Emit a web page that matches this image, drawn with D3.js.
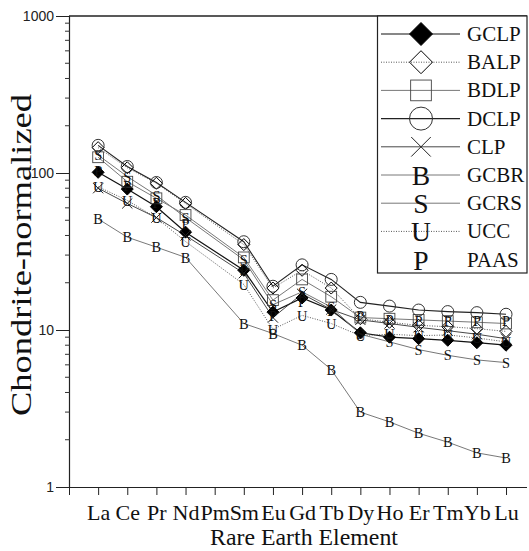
<!DOCTYPE html>
<html>
<head>
<meta charset="utf-8">
<script src="https://cdn.jsdelivr.net/npm/d3@7"></script>
<style>
  html, body { margin: 0; padding: 0; background: #fff; }
  svg { display: block; }
</style>
</head>
<body>
<svg id="chart" width="529" height="551"></svg>
<script>
// ---------------- data ----------------
const elements = ["La","Ce","Pr","Nd","Pm","Sm","Eu","Gd","Tb","Dy","Ho","Er","Tm","Yb","Lu"];
const yTickValues = [1, 10, 100, 1000];
const yTickLabels = ["1", "10", "100", "1000"];
const seriesNames = ["GCLP","BALP","BDLP","DCLP","CLP","GCBR","GCRS","UCC","PAAS"];

const GCLP = [101, 79, 61, 42, null, 24, 13, 16, 13.4, 9.6, 9.0, 8.8, 8.6, 8.3, 8.0];
const BALP = [145, 108, 86, 64, null, 35, 18.5, 24, 18.5, 11.8, 11.2, 10.7, 10.5, 10.2, 9.8];
const BDLP = [126, 88, 69, 54, null, 29, 15.5, 21, 16.3, 12.0, 11.8, 11.6, 11.4, 11.2, 11.0];
const DCLP = [150, 110, 87, 65, null, 36.5, 19, 26, 21, 15, 14.2, 13.4, 13.1, 12.9, 12.6];
const CLP  = [80, 64, 52, 40, null, 23, 12, 17, 13.5, 11.6, 11.0, 10.4, 9.9, 9.4, 8.8];
const GCBR = [51, 39, 33.7, 29, null, 11.0, 9.5, 8.0, 5.6, 3.0, 2.6, 2.2, 1.93, 1.65, 1.53];
const GCRS = [130, 95, 72, 52, null, 28, 14.5, 17.5, 14, 9.4, 8.4, 7.5, 6.9, 6.45, 6.2];
const UCC  = [81.7, 66.9, 51.8, 36.6, null, 19.5, 10.1, 12.4, 11.0, 9.2, 9.4, 9.2, 9.3, 8.9, 8.4];
const PAAS = [104, 83, 64.5, 47.7, null, 24, 12.4, 15.2, 13.3, 12.3, 11.6, 11.4, 11.4, 11.4, 11.4];

// ---------------- styles ----------------
const styles = {
  GCLP: {marker: "fdiamond", stroke: "#111", width: 1.2, dash: null},
  BALP: {marker: "diamond",  stroke: "#444", width: 0.9, dash: "1,1.5"},
  BDLP: {marker: "square",   stroke: "#555", width: 0.8, dash: null},
  DCLP: {marker: "circle",   stroke: "#222", width: 1.1, dash: null},
  CLP:  {marker: "x",        stroke: "#333", width: 0.9, dash: null},
  GCBR: {marker: "B",        stroke: "#555", width: 0.8, dash: null},
  GCRS: {marker: "S",        stroke: "#777", width: 1.0, dash: null},
  UCC:  {marker: "U",        stroke: "#444", width: 0.9, dash: "1,1.5"},
  PAAS: {marker: "P",        stroke: null,   width: 0,   dash: null}
};
const dataBy = {GCLP, BALP, BDLP, DCLP, CLP, GCBR, GCRS, UCC, PAAS};

const SERIF = "'Liberation Serif', 'Times New Roman', Times, 'DejaVu Serif', 'Noto Serif', serif";
const SANS = "'Liberation Sans', Arial, Helvetica, sans-serif";

const svg = d3.select("#chart");
const pLeft = 69, pRight = 527, pTop = 16, pBottom = 487;

const x = d3.scaleLinear().domain([0, 15.72]).range([pLeft, pRight]);
const y = d3.scaleLog().domain([1, 1000]).range([pBottom, pTop]);

// ---------------- axes ----------------
const xAxis = d3.axisBottom(x)
  .tickValues(d3.range(0, 16))
  .tickSize(8)
  .tickFormat(i => i === 0 ? "" : elements[i - 1]);
const gx = svg.append("g").attr("transform", `translate(0,${pBottom})`).call(xAxis)
  .attr("font-family", SERIF).attr("font-size", 22);
gx.select(".domain").attr("d", `M${pLeft},0.5H${pRight}`).attr("stroke", "#222").attr("stroke-width", 1.2);
gx.selectAll(".tick line").attr("stroke", "#222");
gx.selectAll(".tick text")
  .style("font-family", SERIF).style("font-size", "22px").attr("fill", "#111")
  .attr("y", 33).attr("dy", 0);

const yAxis = d3.axisLeft(y)
  .tickValues(yTickValues)
  .tickSize(13)
  .tickFormat((d, i) => yTickLabels[i]);
const gy = svg.append("g").attr("transform", `translate(${pLeft},0)`).call(yAxis)
  .attr("font-family", SANS).attr("font-size", 14);
gy.select(".domain").attr("d", `M0.5,${pTop}V${pBottom}`).attr("stroke", "#222").attr("stroke-width", 1.2);
gy.selectAll(".tick line").attr("stroke", "#222");
gy.selectAll(".tick text")
  .style("font-family", SANS).style("font-size", "14px").attr("fill", "#222").attr("x", -15);

// minor ticks
const minor = [];
for (let dec = 1; dec < 1000; dec *= 10) for (let k = 2; k <= 9; k++) minor.push(dec * k);
svg.append("g").selectAll("line").data(minor).join("line")
  .attr("x1", pLeft - 4).attr("x2", pLeft + 1)
  .attr("y1", d => y(d)).attr("y2", d => y(d))
  .attr("stroke", "#333").attr("stroke-width", 1);

// top border
svg.append("line").attr("x1", pLeft).attr("x2", pRight).attr("y1", pTop).attr("y2", pTop)
  .attr("stroke", "#222").attr("stroke-width", 1.4);

// axis titles
svg.append("text")
  .attr("x", 304).attr("y", 545)
  .attr("text-anchor", "middle")
  .style("font-family", SERIF).style("font-size", "23px").attr("fill", "#111")
  .attr("textLength", 188).attr("lengthAdjust", "spacingAndGlyphs")
  .text("Rare Earth Element");

svg.append("text")
  .attr("transform", "translate(31,255) rotate(-90)")
  .attr("text-anchor", "middle")
  .style("font-family", SERIF).style("font-size", "30px").attr("fill", "#111")
  .attr("textLength", 322).attr("lengthAdjust", "spacingAndGlyphs")
  .text("Chondrite-normalized");

// ---------------- markers ----------------
function drawMarker(g, type, cx, cy, s) {
  if (type === "fdiamond" || type === "diamond") {
    g.append("path")
      .attr("d", `M${cx},${cy - s}L${cx + s},${cy}L${cx},${cy + s}L${cx - s},${cy}Z`)
      .attr("fill", type === "fdiamond" ? "#000" : "none")
      .attr("stroke", "#000").attr("stroke-width", 1);
  } else if (type === "square") {
    const h = s * 0.9;
    g.append("rect").attr("x", cx - h).attr("y", cy - h).attr("width", 2 * h).attr("height", 2 * h)
      .attr("fill", "none").attr("stroke", "#444").attr("stroke-width", 0.9);
  } else if (type === "circle") {
    g.append("circle").attr("cx", cx).attr("cy", cy).attr("r", s)
      .attr("fill", "none").attr("stroke", "#333").attr("stroke-width", 1);
  } else if (type === "x") {
    const h = s * 0.85;
    g.append("path")
      .attr("d", `M${cx - h},${cy - h}L${cx + h},${cy + h}M${cx - h},${cy + h}L${cx + h},${cy - h}`)
      .attr("stroke", "#222").attr("stroke-width", 1);
  } else {
    g.append("text")
      .attr("x", cx).attr("y", cy).attr("dy", "0.36em")
      .attr("text-anchor", "middle")
      .style("font-family", SERIF).style("font-size", (s * 2.4) + "px").attr("fill", "#111")
      .text(type);
  }
}

// ---------------- lines & points ----------------
const line = d3.line()
  .defined(d => d.v != null)
  .x(d => x(d.i + 1))
  .y(d => y(d.v));

const plot = svg.append("g");
seriesNames.forEach(name => {
  const st = styles[name];
  const pts = dataBy[name].map((v, i) => ({i, v})).filter(d => d.v != null);
  if (st.stroke) {
    plot.append("path").datum(pts)
      .attr("d", line)
      .attr("fill", "none")
      .attr("stroke", st.stroke)
      .attr("stroke-width", st.width)
      .attr("stroke-dasharray", st.dash);
  }
});
seriesNames.forEach(name => {
  const st = styles[name];
  const g = plot.append("g");
  dataBy[name].forEach((v, i) => {
    if (v == null) return;
    drawMarker(g, st.marker, x(i + 1), y(v), 6);
  });
});

// ---------------- legend ----------------
const lg = svg.append("g");
lg.append("rect").attr("x", 377.5).attr("y", pTop).attr("width", pRight - 377.5).attr("height", 257)
  .attr("fill", "#fff").attr("stroke", "#222").attr("stroke-width", 1.2);
seriesNames.forEach((name, k) => {
  const st = styles[name];
  const cy = 34 + 28.2 * k;
  if (st.stroke) {
    lg.append("line").attr("x1", 381).attr("x2", 460).attr("y1", cy).attr("y2", cy)
      .attr("stroke", st.stroke).attr("stroke-width", st.width)
      .attr("stroke-dasharray", st.dash);
  }
  drawMarker(lg, st.marker, 421, cy, 11.5);
  lg.append("text")
    .attr("x", 467).attr("y", cy + 7)
    .style("font-family", SERIF).style("font-size", "21px").attr("fill", "#111")
    .text(name);
});
</script>
</body>
</html>
